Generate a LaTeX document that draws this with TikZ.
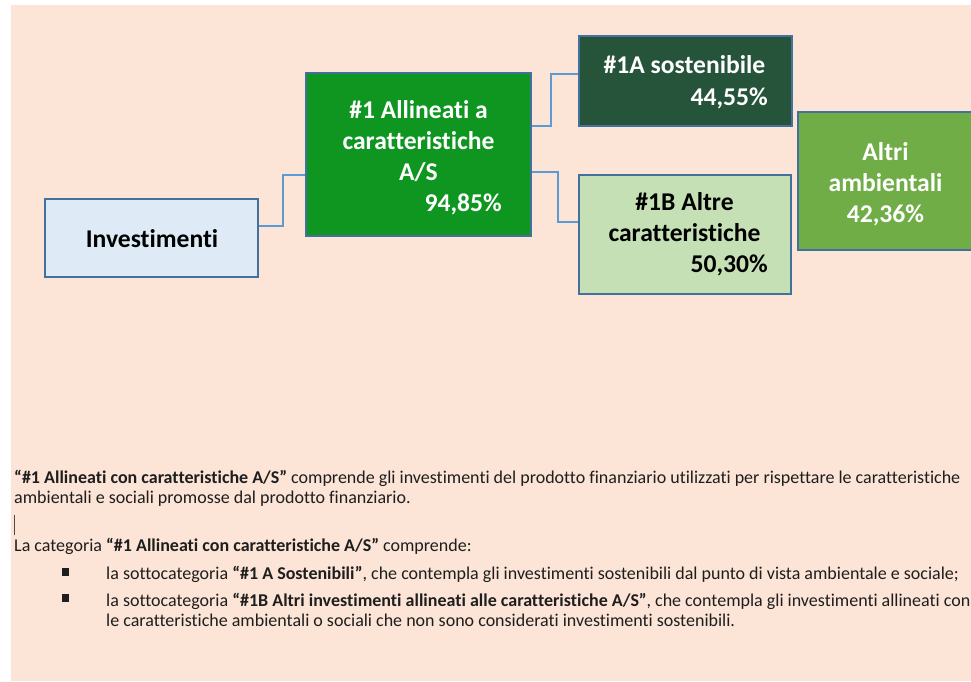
\documentclass[tikz,border=0pt]{standalone}
\usepackage{fontspec}
\setmainfont{Carlito}[Ligatures=NoCommon]
\definecolor{peach}{HTML}{FCE4D6}
\definecolor{boxline}{HTML}{41719C}
\definecolor{connblue}{HTML}{5B9BD5}
\definecolor{invfill}{HTML}{DEEBF7}
\definecolor{onefill}{HTML}{0E9621}
\definecolor{oneafill}{HTML}{25543B}
\definecolor{onebfill}{HTML}{C5E0B4}
\definecolor{altfill}{HTML}{70AD47}
\definecolor{bodyink}{HTML}{1E1E1E}
\begin{document}
\begin{tikzpicture}[x=1pt,y=-1pt,
  boxshape/.style={draw=boxline,line width=1.7pt,inner sep=0pt},
  boxtxt/.style={font=\fontsize{25.6}{30}\selectfont\bfseries,inner sep=0pt,anchor=base},
  boxpct/.style={boxtxt,anchor=base east},
  bodytxt/.style={font=\fontsize{18}{21}\selectfont,inner sep=0pt,anchor=base west,text=bodyink},
  bulletsq/.style={fill=bodyink,inner sep=0pt,minimum width=7pt,minimum height=7.5pt},
  conn/.style={draw=connblue,line width=1.7pt}]
\useasboundingbox (0,0) rectangle (971,681);
\fill[peach] (11,5) rectangle (971,681);
% boxes
\node[boxshape,fill=invfill,minimum width=213pt,minimum height=78pt] (inv) at (151.5,238) {};
\node[boxshape,fill=onefill,minimum width=225pt,minimum height=163pt] (a1) at (418.5,154.5) {};
\node[boxshape,fill=oneafill,minimum width=213pt,minimum height=90pt] (a1a) at (685.5,81) {};
\node[boxshape,fill=onebfill,minimum width=212pt,minimum height=119pt] (a1b) at (685,234.5) {};
\node[boxshape,fill=altfill,minimum width=190pt,minimum height=138pt] (alt) at (893,181) {};
% connectors
\draw[conn] (inv.east|-0,226) -| (283,175) -- (a1.west|-0,175);
\draw[conn] (a1.east|-0,126) -| (551,74) -- (a1a.west|-0,74);
\draw[conn] (a1.east|-0,172) -| (558,222) -- (a1b.west|-0,222);
% box texts
\node[boxtxt,text=black] (tinv) at (152,247) {Investimenti};
\node[boxtxt,text=white] (ta1) at (418.5,118) {\#1 Allineati a};
\node[boxtxt,text=white] (ta2) at (418.5,149) {caratteristiche};
\node[boxtxt,text=white] (ta3) at (418.5,180) {A/S};
\node[boxpct,text=white] (ta4) at (502,211) {94,85\%};
\node[boxtxt,text=white] (tb1) at (684.5,73) {\#1A sostenibile};
\node[boxpct,text=white] (tb2) at (768,105) {44,55\%};
\node[boxtxt,text=black] (tc1) at (684.5,210) {\#1B Altre};
\node[boxtxt,text=black] (tc2) at (684.5,241) {caratteristiche};
\node[boxpct,text=black] (tc3) at (768,272) {50,30\%};
\node[boxtxt,text=white] (td1) at (885.5,160) {Altri};
\node[boxtxt,text=white] (td2) at (885.5,191) {ambientali};
\node[boxtxt,text=white] (td3) at (885.5,222) {42,36\%};
% body text
\node[bodytxt] (l1) at (14,483) {{\bfseries “\#1 Allineati con caratteristiche A/S”} comprende gli investimenti del prodotto finanziario utilizzati per rispettare le caratteristiche};
\node[bodytxt] (l2) at (14,503.5) {ambientali e sociali promosse dal prodotto finanziario.};
\draw[bodyink!80,line width=0.9pt] (14,515) -- (14,535);
\node[bodytxt] (l3) at (14,551.5) {La categoria {\bfseries “\#1 Allineati con caratteristiche A/S”} comprende:};
\node[bulletsq] (b1) at (65,572) {};
\node[bodytxt] (l4) at (106,579) {la sottocategoria {\bfseries “\#1 A Sostenibili”}, che contempla gli investimenti sostenibili dal punto di vista ambientale e sociale;};
\node[bulletsq] (b2) at (65,598) {};
\node[bodytxt] (l5) at (106,606) {la sottocategoria {\bfseries “\#1B Altri investimenti allineati alle caratteristiche A/S”}, che contempla gli investimenti allineati con};
\node[bodytxt] (l6) at (106,626) {le caratteristiche ambientali o sociali che non sono considerati investimenti sostenibili.};
\end{tikzpicture}
\end{document}
